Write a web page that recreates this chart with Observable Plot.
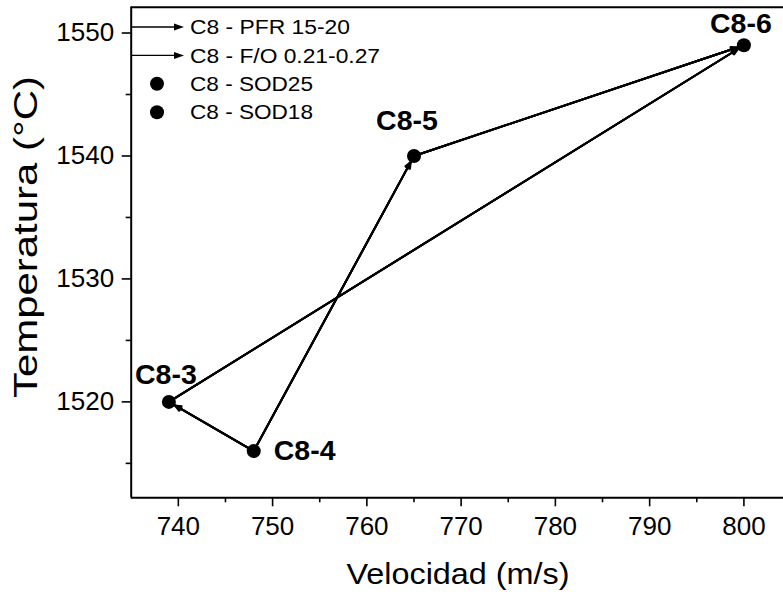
<!DOCTYPE html>
<html>
<head>
<meta charset="utf-8">
<script src="https://cdn.jsdelivr.net/npm/d3@7"></script>
<script src="https://cdn.jsdelivr.net/npm/@observablehq/plot@0.6"></script>
<style>
  body { margin: 0; background: #fff; }
  #chart svg { display: block; }
</style>
</head>
<body>
<div id="chart"></div>
<script>
// Ensayos C8: velocidad vs temperatura
const puntos = ["C8-3", "C8-4", "C8-5", "C8-6"];
const velocidad = [739, 748, 765, 800];
const temperatura = [1520, 1516, 1540, 1549];

// Transiciones (desde -> hasta) de cada serie
const pfrDesde = ["C8-4", "C8-5"];
const pfrHasta = ["C8-5", "C8-6"];
const foDesde = ["C8-4", "C8-3"];
const foHasta = ["C8-3", "C8-6"];

const leyendaFlechas = ["C8 - PFR 15-20", "C8 - F/O 0.21-0.27"];
const leyendaPuntos = ["C8 - SOD25", "C8 - SOD18"];

const xTicks = [740, 750, 760, 770, 780, 790, 800];
const xMinor = [745, 755, 765, 775, 785, 795];
const yTicks = [1520, 1530, 1540, 1550];
const yMinor = [1515, 1525, 1535, 1545];
const xDomain = [735, 804.2];
const yDomain = [1512.2, 1552.1];

const tituloX = "Velocidad (m/s)";
const tituloY = "Temperatura (°C)";

const tabla = puntos.map((id, i) => ({id, v: velocidad[i], t: temperatura[i]}));
const porId = Object.fromEntries(tabla.map(d => [d.id, d]));
const flechas = [
  ...pfrDesde.map((d, i) => ({serie: leyendaFlechas[0], a: porId[d], b: porId[pfrHasta[i]]})),
  ...foDesde.map((d, i) => ({serie: leyendaFlechas[1], a: porId[d], b: porId[foHasta[i]]}))
];

// Filled-looking arrowheads: several chevrons at decreasing angles
const arrowMarks = [46, 32, 18, 6].map(angle =>
  Plot.arrow(flechas, {
    x1: d => d.a.v, y1: d => d.a.t, x2: d => d.b.v, y2: d => d.b.t,
    stroke: "#000", strokeWidth: 2, headLength: 5, headAngle: angle, insetEnd: 7
  })
);

// Point labels, each placed around its dot
const etiqueta = (id, opts) => Plot.text(tabla.filter(d => d.id === id), {
  x: "v", y: "t", text: "id", fontSize: 28.5, fontWeight: "bold", fill: "#000", ...opts
});

const fmt = d => String(d);

const chart = Plot.plot({
  width: 783,
  height: 595,
  marginLeft: 130.7,
  marginRight: 0,
  marginTop: 6.7,
  marginBottom: 97.7,
  x: {domain: xDomain},
  y: {domain: yDomain},
  style: {fontFamily: "'Liberation Sans', Arial, sans-serif", color: "#000", background: "#fff"},
  marks: [
    // axis lines and top border
    Plot.ruleY([yDomain[0], yDomain[1]], {stroke: "#000", strokeWidth: 2}),
    Plot.ruleX([xDomain[0]], {stroke: "#000", strokeWidth: 2}),
    Plot.axisX({ticks: xTicks, tickFormat: fmt, tickSize: 9, tickPadding: 10, fontSize: 26, label: null, strokeWidth: 1.6}),
    Plot.axisX({ticks: xMinor, tickSize: 5, text: null, label: null, strokeWidth: 1.6}),
    Plot.axisY({ticks: yTicks, tickFormat: fmt, tickSize: 9, tickPadding: 8, fontSize: 26, label: null, strokeWidth: 1.6}),
    Plot.axisY({ticks: yMinor, tickSize: 5, text: null, label: null, strokeWidth: 1.6}),
    ...arrowMarks,
    Plot.dot(tabla, {x: "v", y: "t", r: 7, fill: "#000", stroke: "none"}),
    etiqueta("C8-3", {dx: -3, dy: -27}),
    etiqueta("C8-4", {dx: 20, dy: 0, textAnchor: "start"}),
    etiqueta("C8-5", {dx: -7, dy: -35}),
    etiqueta("C8-6", {dx: -3, dy: -21})
  ]
});

const svg = d3.select(chart);
const fuente = "'Liberation Sans', Arial, sans-serif";

// Axis titles
svg.append("text")
  .attr("transform", "translate(458,584)")
  .attr("text-anchor", "middle")
  .attr("fill", "#000")
  .attr("textLength", 223)
  .attr("lengthAdjust", "spacingAndGlyphs")
  .style("font", `29px ${fuente}`)
  .text(tituloX);
svg.append("text")
  .attr("transform", "translate(37,237) rotate(-90)")
  .attr("text-anchor", "middle")
  .attr("fill", "#000")
  .attr("textLength", 322)
  .attr("lengthAdjust", "spacingAndGlyphs")
  .style("font", `33px ${fuente}`)
  .text(tituloY);

// Legend inside the plot area, top-left
const anchos = [160, 190, 123, 123];
const ley = svg.append("g");
const filas = [...leyendaFlechas.map(t => ({t, tipo: "flecha"})), ...leyendaPuntos.map(t => ({t, tipo: "punto"}))];
filas.forEach((f, i) => {
  const y = 27 + i * 28.4;
  if (f.tipo === "flecha") {
    ley.append("line").attr("x1", 131).attr("x2", 176).attr("y1", y).attr("y2", y)
      .attr("stroke", "#000").attr("stroke-width", i === 0 ? 1.5 : 1.1);
    ley.append("path").attr("d", `M184,${y}L174,${y - 3.5}L174,${y + 3.5}Z`).attr("fill", "#000");
  } else {
    ley.append("circle").attr("cx", 157).attr("cy", y).attr("r", 7).attr("fill", "#000");
  }
  ley.append("text").attr("x", 190).attr("y", y).attr("dy", "0.35em")
    .attr("text-anchor", "start").attr("fill", "#000")
    .attr("textLength", anchos[i]).attr("lengthAdjust", "spacingAndGlyphs")
    .style("font", `20.5px ${fuente}`)
    .text(f.t);
});

document.getElementById("chart").append(chart);
</script>
</body>
</html>
